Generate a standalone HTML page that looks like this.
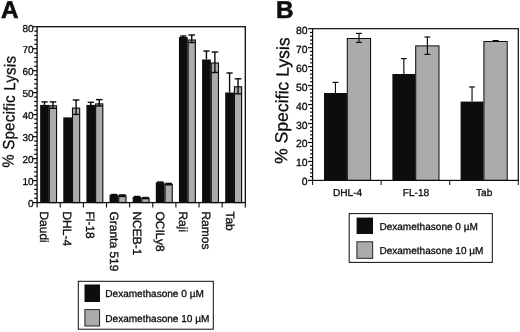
<!DOCTYPE html>
<html><head><meta charset="utf-8"><title>Figure</title>
<style>
html,body{margin:0;padding:0;background:#fff;}
body{width:520px;height:332px;overflow:hidden;}
svg{display:block;}
svg text{font-family:"Liberation Sans", Arial, Helvetica, sans-serif;fill:#0c0c0c;stroke:#0c0c0c;stroke-width:0.3px;text-rendering:geometricPrecision;}
</style></head><body>
<svg width="520" height="332" viewBox="0 0 520 332">
<defs><filter id="soft" x="0" y="0" width="520" height="332" filterUnits="userSpaceOnUse"><feGaussianBlur stdDeviation="0.35"/></filter></defs>
<rect x="0" y="0" width="520" height="332" fill="#ffffff"/>
<g filter="url(#soft)">
<rect x="0" y="0" width="520" height="332" fill="#ffffff"/>
<rect x="40.15" y="104.90" width="8.70" height="97.70" fill="#0a0a0a"/>
<rect x="49.35" y="105.80" width="7.20" height="96.80" fill="#ababab" stroke="#0a0a0a" stroke-width="1.1"/>
<line x1="44.50" y1="101.90" x2="44.50" y2="104.90" stroke="#0a0a0a" stroke-width="1.4"/>
<line x1="41.40" y1="101.90" x2="47.60" y2="101.90" stroke="#0a0a0a" stroke-width="1.4"/>
<line x1="52.95" y1="101.90" x2="52.95" y2="108.30" stroke="#0a0a0a" stroke-width="1.4"/>
<line x1="49.65" y1="101.90" x2="56.25" y2="101.90" stroke="#0a0a0a" stroke-width="1.4"/>
<line x1="49.65" y1="108.30" x2="56.25" y2="108.30" stroke="#0a0a0a" stroke-width="1.4"/>
<rect x="63.28" y="117.40" width="8.70" height="85.20" fill="#0a0a0a"/>
<rect x="72.48" y="108.10" width="7.20" height="94.50" fill="#ababab" stroke="#0a0a0a" stroke-width="1.1"/>
<line x1="76.08" y1="100.00" x2="76.08" y2="114.40" stroke="#0a0a0a" stroke-width="1.4"/>
<line x1="72.78" y1="100.00" x2="79.38" y2="100.00" stroke="#0a0a0a" stroke-width="1.4"/>
<line x1="72.78" y1="114.40" x2="79.38" y2="114.40" stroke="#0a0a0a" stroke-width="1.4"/>
<rect x="86.42" y="104.90" width="8.70" height="97.70" fill="#0a0a0a"/>
<rect x="95.62" y="103.90" width="7.20" height="98.70" fill="#ababab" stroke="#0a0a0a" stroke-width="1.1"/>
<line x1="90.77" y1="102.30" x2="90.77" y2="104.90" stroke="#0a0a0a" stroke-width="1.4"/>
<line x1="87.67" y1="102.30" x2="93.87" y2="102.30" stroke="#0a0a0a" stroke-width="1.4"/>
<line x1="99.22" y1="99.60" x2="99.22" y2="106.00" stroke="#0a0a0a" stroke-width="1.4"/>
<line x1="95.92" y1="99.60" x2="102.52" y2="99.60" stroke="#0a0a0a" stroke-width="1.4"/>
<line x1="95.92" y1="106.00" x2="102.52" y2="106.00" stroke="#0a0a0a" stroke-width="1.4"/>
<rect x="109.55" y="194.80" width="8.70" height="7.80" fill="#0a0a0a"/>
<rect x="118.75" y="195.80" width="7.20" height="6.80" fill="#ababab" stroke="#0a0a0a" stroke-width="1.1"/>
<line x1="113.90" y1="194.50" x2="113.90" y2="194.80" stroke="#0a0a0a" stroke-width="1.4"/>
<line x1="110.80" y1="194.50" x2="117.00" y2="194.50" stroke="#0a0a0a" stroke-width="1.4"/>
<line x1="122.35" y1="194.90" x2="122.35" y2="196.40" stroke="#0a0a0a" stroke-width="1.4"/>
<line x1="119.05" y1="194.90" x2="125.65" y2="194.90" stroke="#0a0a0a" stroke-width="1.4"/>
<line x1="119.05" y1="196.40" x2="125.65" y2="196.40" stroke="#0a0a0a" stroke-width="1.4"/>
<rect x="132.68" y="196.80" width="8.70" height="5.80" fill="#0a0a0a"/>
<rect x="141.88" y="198.40" width="7.20" height="4.20" fill="#ababab" stroke="#0a0a0a" stroke-width="1.1"/>
<line x1="137.03" y1="196.50" x2="137.03" y2="196.80" stroke="#0a0a0a" stroke-width="1.4"/>
<line x1="133.93" y1="196.50" x2="140.13" y2="196.50" stroke="#0a0a0a" stroke-width="1.4"/>
<line x1="145.48" y1="197.50" x2="145.48" y2="198.60" stroke="#0a0a0a" stroke-width="1.4"/>
<line x1="142.18" y1="197.50" x2="148.78" y2="197.50" stroke="#0a0a0a" stroke-width="1.4"/>
<line x1="142.18" y1="198.60" x2="148.78" y2="198.60" stroke="#0a0a0a" stroke-width="1.4"/>
<rect x="155.82" y="182.30" width="8.70" height="20.30" fill="#0a0a0a"/>
<rect x="165.02" y="184.40" width="7.20" height="18.20" fill="#ababab" stroke="#0a0a0a" stroke-width="1.1"/>
<line x1="160.17" y1="182.00" x2="160.17" y2="182.30" stroke="#0a0a0a" stroke-width="1.4"/>
<line x1="157.07" y1="182.00" x2="163.27" y2="182.00" stroke="#0a0a0a" stroke-width="1.4"/>
<line x1="168.62" y1="183.40" x2="168.62" y2="184.80" stroke="#0a0a0a" stroke-width="1.4"/>
<line x1="165.32" y1="183.40" x2="171.92" y2="183.40" stroke="#0a0a0a" stroke-width="1.4"/>
<line x1="165.32" y1="184.80" x2="171.92" y2="184.80" stroke="#0a0a0a" stroke-width="1.4"/>
<rect x="178.95" y="37.00" width="8.70" height="165.60" fill="#0a0a0a"/>
<rect x="188.15" y="40.00" width="7.20" height="162.60" fill="#ababab" stroke="#0a0a0a" stroke-width="1.1"/>
<line x1="183.30" y1="36.00" x2="183.30" y2="37.00" stroke="#0a0a0a" stroke-width="1.4"/>
<line x1="180.20" y1="36.00" x2="186.40" y2="36.00" stroke="#0a0a0a" stroke-width="1.4"/>
<line x1="191.75" y1="35.00" x2="191.75" y2="42.50" stroke="#0a0a0a" stroke-width="1.4"/>
<line x1="188.45" y1="35.00" x2="195.05" y2="35.00" stroke="#0a0a0a" stroke-width="1.4"/>
<line x1="188.45" y1="42.50" x2="195.05" y2="42.50" stroke="#0a0a0a" stroke-width="1.4"/>
<rect x="202.08" y="59.50" width="8.70" height="143.10" fill="#0a0a0a"/>
<rect x="211.28" y="63.00" width="7.20" height="139.60" fill="#ababab" stroke="#0a0a0a" stroke-width="1.1"/>
<line x1="206.43" y1="51.00" x2="206.43" y2="59.50" stroke="#0a0a0a" stroke-width="1.4"/>
<line x1="203.33" y1="51.00" x2="209.53" y2="51.00" stroke="#0a0a0a" stroke-width="1.4"/>
<line x1="214.88" y1="52.00" x2="214.88" y2="72.50" stroke="#0a0a0a" stroke-width="1.4"/>
<line x1="211.58" y1="52.00" x2="218.18" y2="52.00" stroke="#0a0a0a" stroke-width="1.4"/>
<line x1="211.58" y1="72.50" x2="218.18" y2="72.50" stroke="#0a0a0a" stroke-width="1.4"/>
<rect x="225.22" y="92.50" width="8.70" height="110.10" fill="#0a0a0a"/>
<rect x="234.42" y="86.80" width="7.20" height="115.80" fill="#ababab" stroke="#0a0a0a" stroke-width="1.1"/>
<line x1="229.57" y1="73.00" x2="229.57" y2="92.50" stroke="#0a0a0a" stroke-width="1.4"/>
<line x1="226.47" y1="73.00" x2="232.67" y2="73.00" stroke="#0a0a0a" stroke-width="1.4"/>
<line x1="238.02" y1="78.80" x2="238.02" y2="93.80" stroke="#0a0a0a" stroke-width="1.4"/>
<line x1="234.72" y1="78.80" x2="241.32" y2="78.80" stroke="#0a0a0a" stroke-width="1.4"/>
<line x1="234.72" y1="93.80" x2="241.32" y2="93.80" stroke="#0a0a0a" stroke-width="1.4"/>
<rect x="37.1" y="26.7" width="208.20000000000002" height="175.9" fill="none" stroke="#0a0a0a" stroke-width="1.3"/>
<line x1="32.70" y1="202.60" x2="37.10" y2="202.60" stroke="#0a0a0a" stroke-width="1.2"/>
<text x="33.50" y="207.40" font-size="10" text-anchor="end" font-weight="normal">0</text>
<line x1="34.20" y1="198.20" x2="37.10" y2="198.20" stroke="#0a0a0a" stroke-width="1.2"/>
<line x1="34.20" y1="193.81" x2="37.10" y2="193.81" stroke="#0a0a0a" stroke-width="1.2"/>
<line x1="34.20" y1="189.41" x2="37.10" y2="189.41" stroke="#0a0a0a" stroke-width="1.2"/>
<line x1="34.20" y1="185.01" x2="37.10" y2="185.01" stroke="#0a0a0a" stroke-width="1.2"/>
<line x1="32.70" y1="180.61" x2="37.10" y2="180.61" stroke="#0a0a0a" stroke-width="1.2"/>
<text x="33.50" y="185.41" font-size="10" text-anchor="end" font-weight="normal">10</text>
<line x1="34.20" y1="176.22" x2="37.10" y2="176.22" stroke="#0a0a0a" stroke-width="1.2"/>
<line x1="34.20" y1="171.82" x2="37.10" y2="171.82" stroke="#0a0a0a" stroke-width="1.2"/>
<line x1="34.20" y1="167.42" x2="37.10" y2="167.42" stroke="#0a0a0a" stroke-width="1.2"/>
<line x1="34.20" y1="163.02" x2="37.10" y2="163.02" stroke="#0a0a0a" stroke-width="1.2"/>
<line x1="32.70" y1="158.62" x2="37.10" y2="158.62" stroke="#0a0a0a" stroke-width="1.2"/>
<text x="33.50" y="163.43" font-size="10" text-anchor="end" font-weight="normal">20</text>
<line x1="34.20" y1="154.23" x2="37.10" y2="154.23" stroke="#0a0a0a" stroke-width="1.2"/>
<line x1="34.20" y1="149.83" x2="37.10" y2="149.83" stroke="#0a0a0a" stroke-width="1.2"/>
<line x1="34.20" y1="145.43" x2="37.10" y2="145.43" stroke="#0a0a0a" stroke-width="1.2"/>
<line x1="34.20" y1="141.03" x2="37.10" y2="141.03" stroke="#0a0a0a" stroke-width="1.2"/>
<line x1="32.70" y1="136.64" x2="37.10" y2="136.64" stroke="#0a0a0a" stroke-width="1.2"/>
<text x="33.50" y="141.44" font-size="10" text-anchor="end" font-weight="normal">30</text>
<line x1="34.20" y1="132.24" x2="37.10" y2="132.24" stroke="#0a0a0a" stroke-width="1.2"/>
<line x1="34.20" y1="127.84" x2="37.10" y2="127.84" stroke="#0a0a0a" stroke-width="1.2"/>
<line x1="34.20" y1="123.44" x2="37.10" y2="123.44" stroke="#0a0a0a" stroke-width="1.2"/>
<line x1="34.20" y1="119.05" x2="37.10" y2="119.05" stroke="#0a0a0a" stroke-width="1.2"/>
<line x1="32.70" y1="114.65" x2="37.10" y2="114.65" stroke="#0a0a0a" stroke-width="1.2"/>
<text x="33.50" y="119.45" font-size="10" text-anchor="end" font-weight="normal">40</text>
<line x1="34.20" y1="110.25" x2="37.10" y2="110.25" stroke="#0a0a0a" stroke-width="1.2"/>
<line x1="34.20" y1="105.85" x2="37.10" y2="105.85" stroke="#0a0a0a" stroke-width="1.2"/>
<line x1="34.20" y1="101.46" x2="37.10" y2="101.46" stroke="#0a0a0a" stroke-width="1.2"/>
<line x1="34.20" y1="97.06" x2="37.10" y2="97.06" stroke="#0a0a0a" stroke-width="1.2"/>
<line x1="32.70" y1="92.66" x2="37.10" y2="92.66" stroke="#0a0a0a" stroke-width="1.2"/>
<text x="33.50" y="97.46" font-size="10" text-anchor="end" font-weight="normal">50</text>
<line x1="34.20" y1="88.26" x2="37.10" y2="88.26" stroke="#0a0a0a" stroke-width="1.2"/>
<line x1="34.20" y1="83.87" x2="37.10" y2="83.87" stroke="#0a0a0a" stroke-width="1.2"/>
<line x1="34.20" y1="79.47" x2="37.10" y2="79.47" stroke="#0a0a0a" stroke-width="1.2"/>
<line x1="34.20" y1="75.07" x2="37.10" y2="75.07" stroke="#0a0a0a" stroke-width="1.2"/>
<line x1="32.70" y1="70.67" x2="37.10" y2="70.67" stroke="#0a0a0a" stroke-width="1.2"/>
<text x="33.50" y="75.47" font-size="10" text-anchor="end" font-weight="normal">60</text>
<line x1="34.20" y1="66.28" x2="37.10" y2="66.28" stroke="#0a0a0a" stroke-width="1.2"/>
<line x1="34.20" y1="61.88" x2="37.10" y2="61.88" stroke="#0a0a0a" stroke-width="1.2"/>
<line x1="34.20" y1="57.48" x2="37.10" y2="57.48" stroke="#0a0a0a" stroke-width="1.2"/>
<line x1="34.20" y1="53.08" x2="37.10" y2="53.08" stroke="#0a0a0a" stroke-width="1.2"/>
<line x1="32.70" y1="48.69" x2="37.10" y2="48.69" stroke="#0a0a0a" stroke-width="1.2"/>
<text x="33.50" y="53.49" font-size="10" text-anchor="end" font-weight="normal">70</text>
<line x1="34.20" y1="44.29" x2="37.10" y2="44.29" stroke="#0a0a0a" stroke-width="1.2"/>
<line x1="34.20" y1="39.89" x2="37.10" y2="39.89" stroke="#0a0a0a" stroke-width="1.2"/>
<line x1="34.20" y1="35.50" x2="37.10" y2="35.50" stroke="#0a0a0a" stroke-width="1.2"/>
<line x1="34.20" y1="31.10" x2="37.10" y2="31.10" stroke="#0a0a0a" stroke-width="1.2"/>
<line x1="32.70" y1="26.70" x2="37.10" y2="26.70" stroke="#0a0a0a" stroke-width="1.2"/>
<text x="33.50" y="31.50" font-size="10" text-anchor="end" font-weight="normal">80</text>
<line x1="37.10" y1="202.60" x2="37.10" y2="207.60" stroke="#0a0a0a" stroke-width="1.1"/>
<line x1="60.23" y1="202.60" x2="60.23" y2="207.60" stroke="#0a0a0a" stroke-width="1.1"/>
<line x1="83.37" y1="202.60" x2="83.37" y2="207.60" stroke="#0a0a0a" stroke-width="1.1"/>
<line x1="106.50" y1="202.60" x2="106.50" y2="207.60" stroke="#0a0a0a" stroke-width="1.1"/>
<line x1="129.63" y1="202.60" x2="129.63" y2="207.60" stroke="#0a0a0a" stroke-width="1.1"/>
<line x1="152.77" y1="202.60" x2="152.77" y2="207.60" stroke="#0a0a0a" stroke-width="1.1"/>
<line x1="175.90" y1="202.60" x2="175.90" y2="207.60" stroke="#0a0a0a" stroke-width="1.1"/>
<line x1="199.03" y1="202.60" x2="199.03" y2="207.60" stroke="#0a0a0a" stroke-width="1.1"/>
<line x1="222.17" y1="202.60" x2="222.17" y2="207.60" stroke="#0a0a0a" stroke-width="1.1"/>
<line x1="245.30" y1="202.60" x2="245.30" y2="207.60" stroke="#0a0a0a" stroke-width="1.1"/>
<text x="40.00" y="211.40" font-size="12.0" text-anchor="start" font-weight="normal" transform="rotate(90 40.00 211.40)">Daudi</text>
<text x="63.21" y="211.40" font-size="12.0" text-anchor="start" font-weight="normal" transform="rotate(90 63.21 211.40)">DHL-4</text>
<text x="86.43" y="211.40" font-size="12.0" text-anchor="start" font-weight="normal" transform="rotate(90 86.43 211.40)">Fl-18</text>
<text x="109.64" y="211.40" font-size="12.0" text-anchor="start" font-weight="normal" transform="rotate(90 109.64 211.40)">Granta 519</text>
<text x="132.85" y="211.40" font-size="12.0" text-anchor="start" font-weight="normal" transform="rotate(90 132.85 211.40)">NCEB-1</text>
<text x="156.07" y="211.40" font-size="12.0" text-anchor="start" font-weight="normal" transform="rotate(90 156.07 211.40)">OCILy8</text>
<text x="179.28" y="211.40" font-size="12.0" text-anchor="start" font-weight="normal" transform="rotate(90 179.28 211.40)">Raji</text>
<text x="202.49" y="211.40" font-size="12.0" text-anchor="start" font-weight="normal" transform="rotate(90 202.49 211.40)">Ramos</text>
<text x="225.71" y="211.40" font-size="12.0" text-anchor="start" font-weight="normal" transform="rotate(90 225.71 211.40)">Tab</text>
<text x="0" y="0" font-size="16.0" text-anchor="start" font-weight="normal" transform="translate(13.60 167.80) rotate(-88.9) scale(0.935 1)" letter-spacing="0.3">% Specific Lysis</text>
<text x="0.90" y="18.40" font-size="24.3" text-anchor="start" font-weight="bold" style="stroke-width:0.55px">A</text>
<rect x="78.30" y="281.30" width="135.00" height="47.90" fill="#fff" stroke="#0a0a0a" stroke-width="1.0"/>
<rect x="84.50" y="284.50" width="15.50" height="17.50" fill="#0a0a0a"/>
<rect x="84.90" y="309.60" width="14.70" height="16.40" fill="#ababab" stroke="#1a1a1a" stroke-width="0.95"/>
<text x="105.30" y="297.30" font-size="10.05" text-anchor="start" font-weight="normal">Dexamethasone 0 µM</text>
<text x="105.30" y="322.30" font-size="10.05" text-anchor="start" font-weight="normal">Dexamethasone 10 µM</text>
<rect x="324.00" y="93.00" width="22.90" height="87.40" fill="#0a0a0a"/>
<rect x="347.30" y="38.50" width="23.30" height="141.90" fill="#ababab" stroke="#0a0a0a" stroke-width="1.0"/>
<line x1="335.45" y1="82.40" x2="335.45" y2="93.00" stroke="#0a0a0a" stroke-width="1.15"/>
<line x1="332.45" y1="82.40" x2="338.45" y2="82.40" stroke="#0a0a0a" stroke-width="1.15"/>
<line x1="359.00" y1="33.40" x2="359.00" y2="42.40" stroke="#0a0a0a" stroke-width="1.15"/>
<line x1="356.00" y1="33.40" x2="362.00" y2="33.40" stroke="#0a0a0a" stroke-width="1.15"/>
<line x1="356.00" y1="42.40" x2="362.00" y2="42.40" stroke="#0a0a0a" stroke-width="1.15"/>
<text x="347.55" y="196.00" font-size="10.1" text-anchor="middle" font-weight="normal">DHL-4</text>
<rect x="392.40" y="74.00" width="22.90" height="106.40" fill="#0a0a0a"/>
<rect x="415.70" y="45.90" width="23.30" height="134.50" fill="#ababab" stroke="#0a0a0a" stroke-width="1.0"/>
<line x1="403.85" y1="58.60" x2="403.85" y2="74.00" stroke="#0a0a0a" stroke-width="1.15"/>
<line x1="400.85" y1="58.60" x2="406.85" y2="58.60" stroke="#0a0a0a" stroke-width="1.15"/>
<line x1="427.40" y1="37.00" x2="427.40" y2="54.40" stroke="#0a0a0a" stroke-width="1.15"/>
<line x1="424.40" y1="37.00" x2="430.40" y2="37.00" stroke="#0a0a0a" stroke-width="1.15"/>
<line x1="424.40" y1="54.40" x2="430.40" y2="54.40" stroke="#0a0a0a" stroke-width="1.15"/>
<text x="415.95" y="196.00" font-size="10.1" text-anchor="middle" font-weight="normal">FL-18</text>
<rect x="460.60" y="101.60" width="22.90" height="78.80" fill="#0a0a0a"/>
<rect x="483.90" y="41.50" width="23.30" height="138.90" fill="#ababab" stroke="#0a0a0a" stroke-width="1.0"/>
<line x1="472.05" y1="87.00" x2="472.05" y2="101.60" stroke="#0a0a0a" stroke-width="1.15"/>
<line x1="469.05" y1="87.00" x2="475.05" y2="87.00" stroke="#0a0a0a" stroke-width="1.15"/>
<line x1="495.60" y1="40.60" x2="495.60" y2="41.40" stroke="#0a0a0a" stroke-width="1.15"/>
<line x1="492.60" y1="40.60" x2="498.60" y2="40.60" stroke="#0a0a0a" stroke-width="1.15"/>
<line x1="492.60" y1="41.40" x2="498.60" y2="41.40" stroke="#0a0a0a" stroke-width="1.15"/>
<text x="484.15" y="196.00" font-size="10.1" text-anchor="middle" font-weight="normal">Tab</text>
<rect x="312.6" y="28.7" width="205.69999999999993" height="151.70000000000002" fill="none" stroke="#0a0a0a" stroke-width="1.2"/>
<line x1="308.00" y1="180.40" x2="312.60" y2="180.40" stroke="#0a0a0a" stroke-width="1.2"/>
<text x="307.60" y="185.40" font-size="10.4" text-anchor="end" font-weight="normal">0</text>
<line x1="310.00" y1="176.61" x2="312.60" y2="176.61" stroke="#0a0a0a" stroke-width="1.2"/>
<line x1="310.00" y1="172.81" x2="312.60" y2="172.81" stroke="#0a0a0a" stroke-width="1.2"/>
<line x1="310.00" y1="169.02" x2="312.60" y2="169.02" stroke="#0a0a0a" stroke-width="1.2"/>
<line x1="310.00" y1="165.23" x2="312.60" y2="165.23" stroke="#0a0a0a" stroke-width="1.2"/>
<line x1="308.00" y1="161.44" x2="312.60" y2="161.44" stroke="#0a0a0a" stroke-width="1.2"/>
<text x="307.60" y="166.44" font-size="10.4" text-anchor="end" font-weight="normal">10</text>
<line x1="310.00" y1="157.65" x2="312.60" y2="157.65" stroke="#0a0a0a" stroke-width="1.2"/>
<line x1="310.00" y1="153.85" x2="312.60" y2="153.85" stroke="#0a0a0a" stroke-width="1.2"/>
<line x1="310.00" y1="150.06" x2="312.60" y2="150.06" stroke="#0a0a0a" stroke-width="1.2"/>
<line x1="310.00" y1="146.27" x2="312.60" y2="146.27" stroke="#0a0a0a" stroke-width="1.2"/>
<line x1="308.00" y1="142.47" x2="312.60" y2="142.47" stroke="#0a0a0a" stroke-width="1.2"/>
<text x="307.60" y="147.47" font-size="10.4" text-anchor="end" font-weight="normal">20</text>
<line x1="310.00" y1="138.68" x2="312.60" y2="138.68" stroke="#0a0a0a" stroke-width="1.2"/>
<line x1="310.00" y1="134.89" x2="312.60" y2="134.89" stroke="#0a0a0a" stroke-width="1.2"/>
<line x1="310.00" y1="131.10" x2="312.60" y2="131.10" stroke="#0a0a0a" stroke-width="1.2"/>
<line x1="310.00" y1="127.31" x2="312.60" y2="127.31" stroke="#0a0a0a" stroke-width="1.2"/>
<line x1="308.00" y1="123.51" x2="312.60" y2="123.51" stroke="#0a0a0a" stroke-width="1.2"/>
<text x="307.60" y="128.51" font-size="10.4" text-anchor="end" font-weight="normal">30</text>
<line x1="310.00" y1="119.72" x2="312.60" y2="119.72" stroke="#0a0a0a" stroke-width="1.2"/>
<line x1="310.00" y1="115.93" x2="312.60" y2="115.93" stroke="#0a0a0a" stroke-width="1.2"/>
<line x1="310.00" y1="112.13" x2="312.60" y2="112.13" stroke="#0a0a0a" stroke-width="1.2"/>
<line x1="310.00" y1="108.34" x2="312.60" y2="108.34" stroke="#0a0a0a" stroke-width="1.2"/>
<line x1="308.00" y1="104.55" x2="312.60" y2="104.55" stroke="#0a0a0a" stroke-width="1.2"/>
<text x="307.60" y="109.55" font-size="10.4" text-anchor="end" font-weight="normal">40</text>
<line x1="310.00" y1="100.76" x2="312.60" y2="100.76" stroke="#0a0a0a" stroke-width="1.2"/>
<line x1="310.00" y1="96.96" x2="312.60" y2="96.96" stroke="#0a0a0a" stroke-width="1.2"/>
<line x1="310.00" y1="93.17" x2="312.60" y2="93.17" stroke="#0a0a0a" stroke-width="1.2"/>
<line x1="310.00" y1="89.38" x2="312.60" y2="89.38" stroke="#0a0a0a" stroke-width="1.2"/>
<line x1="308.00" y1="85.59" x2="312.60" y2="85.59" stroke="#0a0a0a" stroke-width="1.2"/>
<text x="307.60" y="90.59" font-size="10.4" text-anchor="end" font-weight="normal">50</text>
<line x1="310.00" y1="81.80" x2="312.60" y2="81.80" stroke="#0a0a0a" stroke-width="1.2"/>
<line x1="310.00" y1="78.00" x2="312.60" y2="78.00" stroke="#0a0a0a" stroke-width="1.2"/>
<line x1="310.00" y1="74.21" x2="312.60" y2="74.21" stroke="#0a0a0a" stroke-width="1.2"/>
<line x1="310.00" y1="70.42" x2="312.60" y2="70.42" stroke="#0a0a0a" stroke-width="1.2"/>
<line x1="308.00" y1="66.62" x2="312.60" y2="66.62" stroke="#0a0a0a" stroke-width="1.2"/>
<text x="307.60" y="71.62" font-size="10.4" text-anchor="end" font-weight="normal">60</text>
<line x1="310.00" y1="62.83" x2="312.60" y2="62.83" stroke="#0a0a0a" stroke-width="1.2"/>
<line x1="310.00" y1="59.04" x2="312.60" y2="59.04" stroke="#0a0a0a" stroke-width="1.2"/>
<line x1="310.00" y1="55.25" x2="312.60" y2="55.25" stroke="#0a0a0a" stroke-width="1.2"/>
<line x1="310.00" y1="51.46" x2="312.60" y2="51.46" stroke="#0a0a0a" stroke-width="1.2"/>
<line x1="308.00" y1="47.66" x2="312.60" y2="47.66" stroke="#0a0a0a" stroke-width="1.2"/>
<text x="307.60" y="52.66" font-size="10.4" text-anchor="end" font-weight="normal">70</text>
<line x1="310.00" y1="43.87" x2="312.60" y2="43.87" stroke="#0a0a0a" stroke-width="1.2"/>
<line x1="310.00" y1="40.08" x2="312.60" y2="40.08" stroke="#0a0a0a" stroke-width="1.2"/>
<line x1="310.00" y1="36.28" x2="312.60" y2="36.28" stroke="#0a0a0a" stroke-width="1.2"/>
<line x1="310.00" y1="32.49" x2="312.60" y2="32.49" stroke="#0a0a0a" stroke-width="1.2"/>
<line x1="308.00" y1="28.70" x2="312.60" y2="28.70" stroke="#0a0a0a" stroke-width="1.2"/>
<text x="307.60" y="33.70" font-size="10.4" text-anchor="end" font-weight="normal">80</text>
<line x1="312.60" y1="180.40" x2="312.60" y2="185.00" stroke="#0a0a0a" stroke-width="1.0"/>
<line x1="381.17" y1="180.40" x2="381.17" y2="185.00" stroke="#0a0a0a" stroke-width="1.0"/>
<line x1="449.73" y1="180.40" x2="449.73" y2="185.00" stroke="#0a0a0a" stroke-width="1.0"/>
<line x1="518.30" y1="180.40" x2="518.30" y2="185.00" stroke="#0a0a0a" stroke-width="1.0"/>
<text x="0" y="0" font-size="17.6" text-anchor="start" font-weight="normal" transform="translate(286.90 164.00) rotate(-88.9) scale(1.0 1)">% Specific Lysis</text>
<text x="276.00" y="18.40" font-size="24.3" text-anchor="start" font-weight="bold" style="stroke-width:0.55px">B</text>
<rect x="349.20" y="213.60" width="143.10" height="48.80" fill="#fff" stroke="#0a0a0a" stroke-width="1.0"/>
<rect x="356.60" y="217.60" width="16.40" height="16.40" fill="#0a0a0a"/>
<rect x="356.90" y="241.80" width="15.80" height="16.50" fill="#ababab" stroke="#1a1a1a" stroke-width="0.95"/>
<text x="379.40" y="229.90" font-size="10.05" text-anchor="start" font-weight="normal">Dexamethasone 0 µM</text>
<text x="379.40" y="254.10" font-size="10.05" text-anchor="start" font-weight="normal">Dexamethasone 10 µM</text>
</g>
</svg>
</body></html>
